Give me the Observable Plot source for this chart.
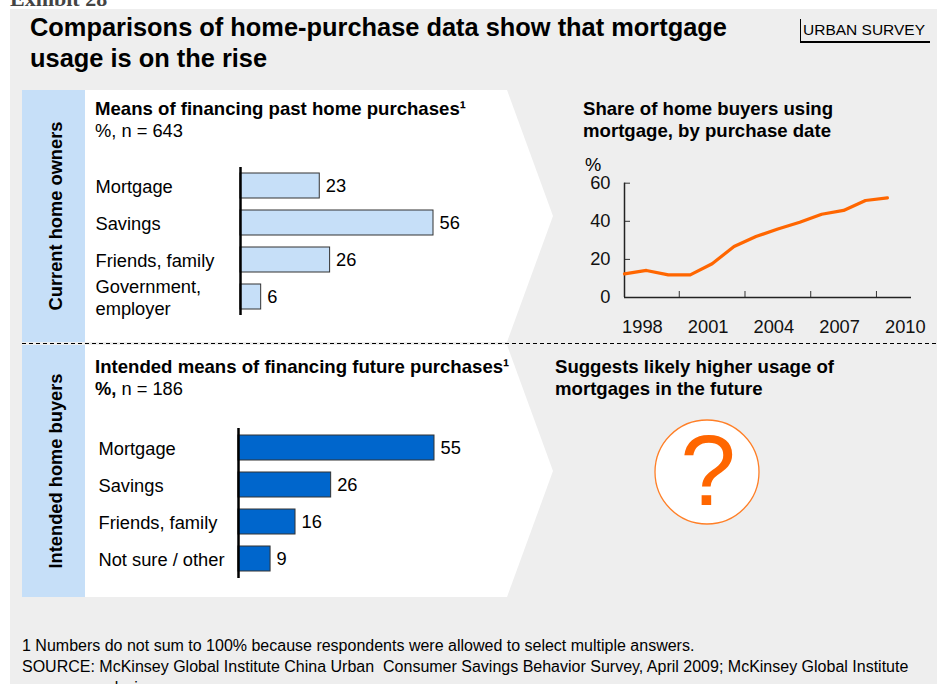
<!DOCTYPE html>
<html><head><meta charset="utf-8">
<script src="https://cdn.jsdelivr.net/npm/d3@7"></script>
<script src="https://cdn.jsdelivr.net/npm/@observablehq/plot@0.6"></script>
<style>
html,body{margin:0;padding:0}
body{width:937px;height:684px;overflow:hidden;background:#fff;font-family:"Liberation Sans",Arial,sans-serif;color:#000;position:relative}
.abs{position:absolute;white-space:nowrap}
.hdr{font-weight:bold;font-size:18.6px;line-height:22px}
.sub{font-size:18.3px;line-height:22px}
</style></head><body>
<script>
// ---------- data ----------
const pastCategories = ["Mortgage", "Savings", "Friends, family", "Government,\nemployer"];
const pastValues = [23, 56, 26, 6];
const futureCategories = ["Mortgage", "Savings", "Friends, family", "Not sure / other"];
const futureValues = [55, 26, 16, 9];
const purchaseYears = [1997, 1998, 1999, 2000, 2001, 2002, 2003, 2004, 2005, 2006, 2007, 2008, 2009];
const mortgageShare = [12.4, 14.2, 11.9, 11.9, 17.7, 26.8, 32.0, 36.0, 39.5, 43.7, 45.7, 50.9, 52.3];
const yearTickLabels = [1998, 2001, 2004, 2007, 2010];
const yearTickMarks = [1999.5, 2002.5, 2005.5, 2008.5];
const shareTicks = [0, 20, 40, 60];
</script>

<div class="abs" style="left:10px;top:-12px;font:bold 22px 'Liberation Serif',serif;line-height:22px;color:#444">Exhibit 28</div>
<div class="abs" style="left:10px;top:9px;right:0;bottom:0;background:#eeeeee"></div>

<svg class="abs" style="left:0;top:0" width="937" height="684">
  <rect x="22" y="90" width="63" height="252" fill="#c6dff8"/>
  <polygon points="85,90 507,90 553,216 507,342 85,342" fill="#ffffff"/>
  <rect x="22" y="345" width="63" height="252" fill="#c6dff8"/>
  <polygon points="85,345 507,345 553,471 507,597 85,597" fill="#ffffff"/>
  <line x1="22" x2="937" y1="343.5" y2="343.5" stroke="#000" stroke-width="1" stroke-dasharray="4 3"/>
  <text transform="translate(62,216) rotate(-90)" text-anchor="middle" font-family="Liberation Sans, Arial, sans-serif" font-weight="bold" font-size="18.3">Current home owners</text>
  <text transform="translate(62,471) rotate(-90)" text-anchor="middle" font-family="Liberation Sans, Arial, sans-serif" font-weight="bold" font-size="18.3">Intended home buyers</text>
  <circle cx="707" cy="472" r="52" fill="#ffffff" stroke="#ff7f27" stroke-width="1.3"/>
  <text x="708" y="505" text-anchor="middle" font-family="Liberation Sans, Arial, sans-serif" font-size="100" fill="#ff6600">?</text>
</svg>

<div class="abs" style="left:30px;top:12px;font-weight:bold;font-size:25.4px;line-height:31px">Comparisons of home-purchase data show that mortgage<br>usage is on the rise</div>
<div class="abs" style="left:800px;top:19px;width:127px;height:22px;border-left:1px solid #000;border-bottom:2px solid #000;font-size:15.5px;line-height:22px;padding-left:2px">URBAN SURVEY</div>

<div class="abs" style="left:95px;top:98px"><div class="hdr">Means of financing past home purchases¹</div><div class="sub">%, n = 643</div></div>
<div class="abs" style="left:95px;top:356px"><div class="hdr">Intended means of financing future purchases¹</div><div class="sub"><b>%,</b> n = 186</div></div>
<div class="abs hdr" style="left:583px;top:98px">Share of home buyers using<br>mortgage, by purchase date</div>
<div class="abs sub" style="left:585px;top:154px">%</div>
<div class="abs hdr" style="left:555px;top:356px">Suggests likely higher usage of<br>mortgages in the future</div>

<div class="abs" style="left:22px;top:635px;font-size:16px;line-height:21px">1 Numbers do not sum to 100% because respondents were allowed to select multiple answers.</div>
<div class="abs" style="left:22px;top:656px;font-size:16px;line-height:21px;white-space:pre">SOURCE: McKinsey Global Institute China Urban  Consumer Savings Behavior Survey, April 2009; McKinsey Global Institute</div>
<div class="abs" style="left:88px;top:677px;font-size:16px;line-height:21px">analysis</div>

<div id="past" class="abs" style="left:0;top:150px"></div>
<div id="future" class="abs" style="left:0;top:410px"></div>
<div id="line" class="abs" style="left:560px;top:150px"></div>

<script>
const FONT = '"Liberation Sans", Arial, sans-serif';

function barChart(cats, vals, fill, o) {
  const data = cats.map((c, i) => ({cat: c, value: vals[i]}));
  return Plot.plot({
    width: o.width, height: o.height,
    marginLeft: o.ml, marginRight: o.mr, marginTop: o.mt, marginBottom: o.mb,
    style: {background: "transparent", fontFamily: FONT, fontSize: "18px", color: "#000", overflow: "visible"},
    x: {domain: [0, d3.max(vals)], axis: null},
    y: {domain: cats, axis: null, paddingInner: 0.32, paddingOuter: 0.15},
    marks: [
      Plot.barX(data, {x: "value", y: "cat", fill: fill, stroke: "#333", strokeWidth: 1}),
      Plot.ruleX([0], {stroke: "#000", strokeWidth: 2.5}),
      Plot.text(data, {x: "value", y: "cat", text: d => String(d.value), dx: 6, textAnchor: "start", fontSize: 18.3, fill: "#000"}),
      Plot.text(data, {y: "cat", text: "cat", frameAnchor: "left", dx: o.labelDx, textAnchor: "start", fontSize: 18.3, lineHeight: 1.22, fill: "#000"})
    ]
  });
}

document.getElementById("past").append(barChart(pastCategories, pastValues, "#c6dff8",
  {width: 520, height: 180, ml: 240, mr: 87, mt: 17, mb: 15, labelDx: -145}));
document.getElementById("future").append(barChart(futureCategories, futureValues, "#0066cc",
  {width: 520, height: 185, ml: 238, mr: 86, mt: 18, mb: 17, labelDx: -140}));

const lineData = purchaseYears.map((y, i) => ({year: y, share: mortgageShare[i]}));
document.getElementById("line").append(Plot.plot({
  width: 377, height: 200,
  marginLeft: 64, marginRight: 26, marginTop: 32.7, marginBottom: 53,
  style: {background: "transparent", fontFamily: FONT, fontSize: "18px", color: "#111", overflow: "visible"},
  x: {domain: [1997, 2010.1], label: null},
  y: {domain: [0, 60], label: null},
  marks: [
    Plot.axisX({ticks: yearTickMarks, tickSize: -6, tickFormat: () => "", stroke: "#333", label: null}),
    Plot.axisX({ticks: yearTickLabels, tickSize: 0, tickPadding: 22, tickFormat: d => String(d), dx: -4, fontSize: 18.3, label: null}),
    Plot.axisY({ticks: shareTicks, tickSize: -6, tickPadding: 20, tickFormat: d => String(d), fontSize: 18.3, stroke: "#333", label: null}),
    Plot.ruleY([0], {stroke: "#222", strokeWidth: 1.5}),
    Plot.ruleX([1997], {stroke: "#222", strokeWidth: 1.5}),
    Plot.line(lineData, {x: "year", y: "share", stroke: "#ff6600", strokeWidth: 3.2})
  ]
}));
</script>
</body></html>
